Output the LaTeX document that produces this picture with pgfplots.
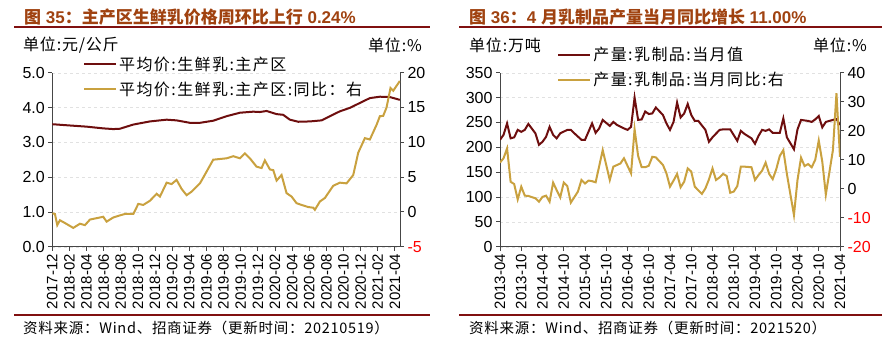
\documentclass[border=0pt]{standalone}
\usepackage{fontspec}
\setmainfont{Liberation Sans}
\newfontfamily\cjk{Noto Sans CJK SC}
\newfontfamily\cjkw[LetterSpace=9]{Noto Sans CJK SC}
\newfontfamily\cjkf[LetterSpace=5]{Noto Sans CJK SC}
\usepackage{pgfplots}
\pgfplotsset{compat=1.18}
\definecolor{mred}{RGB}{110,14,14}
\definecolor{mgold}{RGB}{201,161,63}
\definecolor{ttl}{RGB}{160,66,16}
\definecolor{rulec}{RGB}{128,16,16}
\definecolor{axgray}{RGB}{70,70,70}
\definecolor{gridgray}{RGB}{225,225,225}
\pgfplotsset{
 base/.style={scale only axis, tick align=outside, major tick length=4pt,
   axis line style={axgray, line width=0.8pt}, tick style={axgray, line width=0.8pt},
   /pgf/number format/assume math mode=true,
   y tick label style={font=\fontsize{16}{18}\selectfont},
   x tick label style={rotate=90, anchor=east, font=\fontsize{15}{17}\selectfont},
 },
 leg/.style={legend style={draw=none, fill=none, inner sep=0pt, font=\cjkw\fontsize{16}{18}\selectfont, row sep=6pt, cells={anchor=west}},
   legend image code/.code={\draw[##1] (0pt,0pt) -- (32pt,0pt);}},
}
\begin{document}
\begin{tikzpicture}
\path[use as bounding box] (0pt,0pt) rectangle (891pt,340pt);
% ---------- left panel decorations
\node[anchor=west, inner sep=0pt, text=ttl, font=\fontsize{17}{20}\selectfont\bfseries] at (24pt,323pt) {{\cjk 图} 35{\cjk ：主产区生鲜乳价格周环比上行} 0.24\%};
\draw[rulec, line width=1.5pt] (14pt,313pt) -- (430pt,313pt);
\node[anchor=west, inner sep=0pt, font=\cjkf\fontsize{16}{18}\selectfont] at (23pt,295pt) {单位:元/公斤};
\node[anchor=west, inner sep=0pt, font=\cjkf\fontsize{16}{18}\selectfont] at (368pt,295pt) {单位:\%};
\draw[rulec, line width=1.5pt] (14pt,25pt) -- (430pt,25pt);
\node[anchor=west, inner sep=0pt, font=\cjkf\fontsize{14.5}{16}\selectfont] at (23pt,12pt) {资料来源：Wind、招商证券（更新时间：20210519）};
% ---------- right panel decorations
\node[anchor=west, inner sep=0pt, text=ttl, font=\fontsize{17}{20}\selectfont\bfseries] at (469pt,323pt) {{\cjk 图} 36{\cjk ：}4 {\cjk 月乳制品产量当月同比增长} 11.00\%};
\draw[rulec, line width=1.5pt] (459pt,313pt) -- (882pt,313pt);
\node[anchor=west, inner sep=0pt, font=\cjkf\fontsize{16}{18}\selectfont] at (469pt,295pt) {单位:万吨};
\node[anchor=west, inner sep=0pt, font=\cjkf\fontsize{16}{18}\selectfont] at (813pt,295pt) {单位:\%};
\draw[rulec, line width=1.5pt] (459pt,25pt) -- (882pt,25pt);
\node[anchor=west, inner sep=0pt, font=\cjkf\fontsize{14.5}{16}\selectfont] at (469pt,12pt) {资料来源：Wind、招商证券（更新时间：2021520）};

% ================= LEFT PANEL =================
\begin{axis}[base, leg, at={(52.3pt,93.3pt)}, anchor=south west, width=347.7pt, height=174pt,
  xmin=0, xmax=40.6, ymin=0, ymax=5,
  axis x line*=bottom, axis y line*=left,
  ytick={0,1,2,3,4,5}, yticklabels={0.0,1.0,2.0,3.0,4.0,5.0},
  xtick={0,2,...,40},
  xticklabels={2017-12,2018-02,2018-04,2018-06,2018-08,2018-10,2018-12,2019-02,2019-04,2019-06,2019-08,2019-10,2019-12,2020-02,2020-04,2020-06,2020-08,2020-10,2020-12,2021-02,2021-04},
  ymajorgrids, grid style={gridgray, dashed},
  legend style={at={(0.088,1.104)}, anchor=north west}]
\addplot[mred, line width=2pt] coordinates {
(0,3.52) (1.67,3.49) (4.0,3.45) (5.95,3.40) (7.12,3.38) (7.90,3.39) (9.46,3.51) (11.40,3.60)
(13.35,3.65) (14.51,3.63) (16.07,3.56) (17.24,3.56) (18.79,3.62) (20.35,3.75) (21.91,3.85)
(23.46,3.88) (24.24,3.87) (25.02,3.90) (26.19,3.81) (26.96,3.79) (27.74,3.65) (28.72,3.59)
(30.08,3.60) (31.44,3.63) (32.41,3.75) (33.58,3.89) (34.75,3.99) (35.91,4.13) (37.08,4.27)
(38.25,4.31) (39.42,4.30) (40.58,4.22)};
\addlegendentry{平均价:生鲜乳:主产区}
\addlegendimage{mgold, line width=2pt}
\addlegendentry{平均价:生鲜乳:主产区:同比：右}
\end{axis}
\begin{axis}[base, at={(52.3pt,93.3pt)}, anchor=south west, width=347.7pt, height=174pt,
  xmin=0, xmax=40.6, ymin=-5, ymax=20,
  axis y line*=right, axis x line=none,
  ytick={-5,0,5,10,15,20}, yticklabels={\textcolor{red}{-5},0,5,10,15,20}]
\addplot[mgold, line width=2pt] coordinates {
(0,-0.2) (0.31,-0.3) (0.58,-1.9) (0.89,-1.2) (1.48,-1.6) (2.45,-2.3) (3.23,-1.7) (3.81,-1.9)
(4.40,-1.1) (5.18,-0.9) (5.95,-0.7) (6.34,-1.4) (7.12,-0.8) (7.90,-0.5) (8.48,-0.3) (9.46,-0.3)
(10.04,1.15) (10.62,1.0) (11.40,1.6) (12.18,2.6) (12.57,2.2) (13.35,4.2) (13.93,4.0) (14.51,4.6)
(15.10,3.3) (15.68,2.4) (16.26,2.9) (17.24,4.1) (18.02,5.8) (18.79,7.5) (19.57,7.6) (20.35,7.7)
(21.13,8.0) (21.91,7.7) (22.49,8.4) (23.07,7.7) (23.85,6.5) (24.44,6.3) (24.82,7.4) (25.41,6.1)
(25.80,6.0) (26.19,4.5) (26.77,5.3) (27.35,2.7) (27.94,2.2) (28.52,1.25) (29.11,1.0) (29.88,0.7)
(30.47,0.6) (30.66,0.3) (31.25,1.5) (31.83,2.0) (32.80,3.75) (33.58,4.2) (34.36,4.1) (35.14,5.3)
(35.72,8.5) (36.50,10.6) (37.08,10.4) (37.86,12.5) (38.25,13.75) (38.64,13.8) (39.03,15.0)
(39.49,17.8) (39.81,17.4) (40.19,18.1) (40.58,18.8)};
\end{axis}

% ================= RIGHT PANEL =================
\begin{axis}[base, leg, at={(500pt,93.3pt)}, anchor=south west, width=340pt, height=174pt,
  xmin=0, xmax=96, ymin=0, ymax=350,
  axis x line*=bottom, axis y line*=left,
  ytick={0,50,...,350},
  xtick={0,6,...,96},
  xticklabels={2013-04,2013-10,2014-04,2014-10,2015-04,2015-10,2016-04,2016-10,2017-04,2017-10,2018-04,2018-10,2019-04,2019-10,2020-04,2020-10,2021-04},
  ymajorgrids, grid style={gridgray, dashed},
  legend style={at={(0.168,1.159)}, anchor=north west}]
\addplot[mred, line width=2pt] coordinates {
(0,215) (1,225) (2,248) (3,218) (4,220) (5,235) (6,231) (7,235) (8,247) (10,228) (11,205)
(12,211) (13,221) (14,241) (15,225) (16,218) (17,228) (19,235) (20,235) (21,228) (23,215)
(24,215) (26,248) (27,229) (28,238) (29,255) (31,243) (32,251) (33,245) (35,238) (36,235)
(37,241) (38,300) (39,255) (40,256) (41,272) (42,267) (43,268) (44,280) (46,265) (47,248)
(48,235) (49,251) (50,290) (51,260) (52,268) (53,287) (54,265) (55,253) (56,253) (58,235)
(59,211) (60,220) (62,235) (63,236) (65,236) (67,213) (68,233) (69,227) (71,218) (72,207)
(73,223) (74,235) (75,233) (76,236) (77,229) (79,229) (80,258) (81,220) (83,196) (84,236)
(85,255) (87,253) (88,251) (89,256) (90,263) (91,240) (92,251) (94,255) (95,257) (96,245)};
\addlegendentry{产量:乳制品:当月值}
\addlegendimage{mgold, line width=2pt}
\addlegendentry{产量:乳制品:当月同比:右}
\end{axis}
\begin{axis}[base, at={(500pt,93.3pt)}, anchor=south west, width=340pt, height=174pt,
  xmin=0, xmax=96, ymin=-20, ymax=40,
  axis y line*=right, axis x line=none,
  ytick={-20,-10,0,10,20,30,40}, yticklabels={\textcolor{red}{-20},\textcolor{red}{-10},0,10,20,30,40}]
\addplot[mgold, line width=2pt] coordinates {
(0,9.0) (1,10.5) (2,13.9) (3,2.4) (4,1.6) (5,-3.7) (6,0.7) (7,-2.4) (8,-2.5) (10,-3.3)
(11,-4.5) (12,-2.8) (13,-2.4) (14,-4.5) (15,2.1) (16,-0.5) (17,-3.0) (18,2.1) (19,0.9)
(20,-4.8) (22,-1.0) (23,3.0) (24,1.8) (25,2.8) (26,2.6) (27,2.2) (29,13.3) (31,3.0) (32,7.6)
(34,8.7) (35,10.5) (37,5.3) (38,20.5) (39,11.3) (40,7.4) (41,7.4) (42,7.9) (43,11.0) (44,10.8)
(46,8.2) (47,5.3) (48,0.7) (49,2.8) (50,5.1) (51,0.5) (52,2.4) (53,7.0) (54,5.9) (55,0.7)
(57,-1.8) (58,0.1) (59,3.2) (60,7.0) (61,3.0) (62,3.9) (63,5.1) (64,4.4) (65,-1.4) (66,-1.0)
(67,0.9) (68,7.6) (69,7.6) (71,7.4) (72,3.0) (73,4.7) (74,6.2) (75,9.0) (76,5.1) (77,3.3)
(78,6.7) (79,11.3) (80,13.3) (81,5.1) (83,-9.1) (84,3.0) (85,10.7) (86,7.8) (87,8.5) (88,7.4)
(89,9.9) (90,16.6) (91,9.3) (92,-2.0) (94,13.3) (95,32.9) (96,11.0)};
\end{axis}
\end{tikzpicture}
\end{document}
